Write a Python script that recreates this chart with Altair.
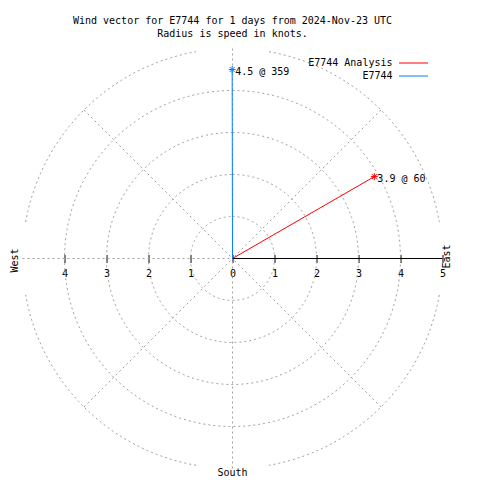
import altair as alt
import pandas as pd

# ---------------- data ----------------
title_lines = [
    "Wind vector for E7744 for 1 days from 2024-Nov-23 UTC",
    "Radius is speed in knots.",
]
series_names = ["E7744 Analysis", "E7744"]
series_colors = ["#ff0000", "#0080ff"]
wind_speed = [3.9, 4.5]          # knots
wind_dir = [60.0, 359.9]         # degrees (from north, clockwise); labelled as integer

ring_radius = [1, 2, 3, 4, 5, 5, 5, 5]
ring_start = [0, 0, 0, 0, 10, 100, 190, 280]
ring_end = [360, 360, 360, 360, 80, 170, 260, 350]
spoke_deg = [0, 45, 90, 135, 180, 225, 270, 315]
axis_ticks = [-4, -3, -2, -1, 0, 1, 2, 3, 4, 5]
axis_span = [0, 5]
compass_names = ["East", "South", "West"]
compass_deg = [90, 180, 270]
R_MAX = 5

FONT = "DejaVu Sans Mono"
GRID = "#a0a0a0"

vec = pd.DataFrame({"name": series_names, "speed": wind_speed, "dir": wind_dir})
rings = pd.DataFrame({"ring": list(range(len(ring_radius))), "r": ring_radius,
                      "a0": ring_start, "a1": ring_end})
spokes = pd.DataFrame({"deg": spoke_deg})
compass = pd.DataFrame({"name": compass_names, "deg": compass_deg})
axis_df = pd.DataFrame({"x0": [axis_span[0]], "x1": [axis_span[1]]})

xs = alt.Scale(domain=[-R_MAX, R_MAX], nice=False, zero=False)
ys = alt.Scale(domain=[-R_MAX, R_MAX], nice=False, zero=False)
xaxis = alt.Axis(values=axis_ticks, orient="bottom", offset=-214, domain=False,
                 grid=False, ticks=True, tickSize=8, tickColor="black", tickWidth=1,
                 labelColor="black", labelFont=FONT, labelFontSize=10, labelPadding=6,
                 labelExpr="'' + abs(datum.value)", title=None, labelFlush=False,
                 labelOverlap=False)


def X(f):
    return alt.X(f, type="quantitative", scale=xs, axis=xaxis)


def Y(f):
    return alt.Y(f, type="quantitative", scale=ys, axis=None)


ring_layer = alt.Chart(rings).transform_calculate(
    t="sequence(datum.a0, datum.a1 + 1, 1)"
).transform_flatten(["t"]).transform_calculate(
    gx="datum.r * sin(datum.t * PI / 180)",
    gy="datum.r * cos(datum.t * PI / 180)",
).mark_line(stroke=GRID, strokeWidth=1, strokeDash=[2, 3]).encode(
    x=X("gx"), y=Y("gy"), detail="ring:N", order="t:Q"
)

spoke_layer = alt.Chart(spokes).transform_calculate(
    sx=f"{R_MAX} * sin(datum.deg * PI / 180)",
    sy=f"{R_MAX} * cos(datum.deg * PI / 180)",
).mark_rule(stroke=GRID, strokeWidth=1, strokeDash=[2, 3]).encode(
    x=X("sx"), y=Y("sy"), x2=alt.datum(0), y2=alt.datum(0)
)

axis_line = alt.Chart(axis_df).mark_rule(color="black", strokeWidth=1).encode(
    x=X("x0"), x2="x1:Q", y=alt.YDatum(0, scale=ys, axis=None)
)

vbase = alt.Chart(vec).transform_calculate(
    vx="datum.speed * sin(datum.dir * PI / 180)",
    vy="datum.speed * cos(datum.dir * PI / 180)",
    label="datum.speed + ' @ ' + floor(datum.dir)",
)
cscale = alt.Scale(domain=series_names, range=series_colors)
legend = alt.Legend(title=None, orient="none", legendX=385.5, legendY=9,
                    symbolType="M-2.9,0L2.9,0", symbolSize=100, symbolStrokeWidth=1,
                    labelAlign="right", labelOffset={"expr": "-26.5"}, labelFont=FONT,
                    labelFontSize=10, labelColor="black", padding=0, rowPadding=2,
                    labelLimit=0)

vec_rule = vbase.mark_rule(strokeWidth=1).encode(
    x=X("vx"), y=Y("vy"), x2=alt.datum(0), y2=alt.datum(0),
    color=alt.Color("name:N", scale=cscale, legend=legend, sort=series_names),
)
ASTER = "M-1,0L1,0M0,-1L0,1M-0.7,-0.7L0.7,0.7M-0.7,0.7L0.7,-0.7"
vec_pt = vbase.mark_point(shape=ASTER, size=49, filled=False, strokeWidth=1, opacity=1).encode(
    x=X("vx"), y=Y("vy"),
    color=alt.Color("name:N", scale=cscale, legend=None),
)
vec_txt = vbase.mark_text(align="left", baseline="middle", dx=3, dy=2, font=FONT,
                          fontSize=10, color="black").encode(
    x=X("vx"), y=Y("vy"), text="label:N"
)

cbase = alt.Chart(compass).transform_calculate(
    cx=f"{R_MAX} * sin(datum.deg * PI / 180)",
    cy=f"{R_MAX} * cos(datum.deg * PI / 180)",
)
# for rotated text (angle 270) dx/dy act in the text frame: screen x = dy, screen y = -dx
east = cbase.transform_filter("datum.name == 'East'").mark_text(
    angle=270, align="center", baseline="middle", dx=2, dy=4.5, font=FONT,
    fontSize=10, color="black").encode(x=X("cx"), y=Y("cy"), text="name:N")
west = cbase.transform_filter("datum.name == 'West'").mark_text(
    angle=270, align="center", baseline="middle", dx=-2, dy=-7.5, font=FONT,
    fontSize=10, color="black").encode(x=X("cx"), y=Y("cy"), text="name:N")
south = cbase.transform_filter("datum.name == 'South'").mark_text(
    align="center", baseline="middle", dy=4, font=FONT,
    fontSize=10, color="black").encode(x=X("cx"), y=Y("cy"), text="name:N")

chart = alt.layer(
    ring_layer, spoke_layer, axis_line, vec_rule, vec_pt, vec_txt, east, west, south
).properties(
    width=420, height=420,
    title=alt.Title(title_lines, font=FONT, fontSize=10, fontWeight="normal",
                    color="black", anchor="middle", offset=9, lineHeight=13),
    autosize=alt.AutoSizeParams(type="none"),
    padding={"left": 14.5, "top": 40.5, "right": 23.5, "bottom": 11.5},
).configure_view(stroke="transparent")

chart.save("out.html", embed_options={"renderer": "svg", "actions": False})
